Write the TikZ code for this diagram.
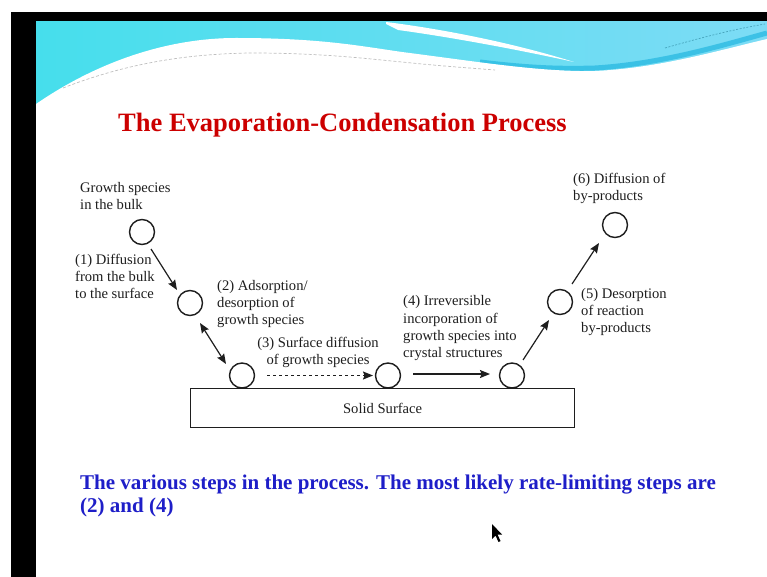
\documentclass[tikz,border=0pt]{standalone}
\usepackage{fontspec}
\setmainfont{Liberation Serif}
\usetikzlibrary{arrows.meta,calc}
\definecolor{titlered}{RGB}{204,0,0}
\definecolor{textblue}{RGB}{30,30,200}
\definecolor{cyanL}{RGB}{70,222,236}
\definecolor{cyanR}{RGB}{125,220,245}
\definecolor{bandblue}{RGB}{40,185,225}
\definecolor{ink}{RGB}{30,30,30}
\begin{document}
\begin{tikzpicture}[x=1pt,y=-1pt,
  ball/.style={circle,draw=ink,line width=1.4pt,minimum size=25pt,inner sep=0pt},
  lbl/.style={anchor=north west,inner sep=0pt,align=left,text=ink,font=\fontsize{14.6}{17.3}\selectfont},
  arr/.style={-{Stealth[length=10pt,width=8pt,inset=1.5pt]},line width=1.2pt,draw=ink},
  darr/.style={{Stealth[length=10pt,width=8pt,inset=1.5pt]}-{Stealth[length=10pt,width=8pt,inset=1.5pt]},line width=1.2pt,draw=ink},
]
\useasboundingbox (0,0) rectangle (767,577);
\fill[white] (0,0) rectangle (767,577);
\fill[black] (11,12) rectangle (767,577);
\fill[white] (36,22) rectangle (767,577);
% banner
\shade[left color=cyanL, right color=cyanR] (36,22) rectangle (767,112);
\draw[bandblue, line width=5pt, opacity=0.75] (480,62) .. controls (530,68) and (560,69) .. (595,68) .. controls (660,64) and (720,46) .. (767,33);
\fill[white] (36,104) .. controls (100,60) and (170,38) .. (236,38) .. controls (320,38) and (360,46) .. (402,52) .. controls (480,62) and (540,72) .. (595,71) .. controls (660,68) and (720,50) .. (767,39) -- (767,114) -- (36,114) -- cycle;
\fill[white] (386,22) .. controls (450,30) and (520,45) .. (574,62) .. controls (520,50) and (450,37) .. (398,30) -- (386,24) -- cycle;
\draw[gray, dash pattern=on 3pt off 2pt, line width=0.7pt, opacity=0.5] (63,88) .. controls (130,62) and (190,54) .. (250,53) .. controls (320,53) and (360,58) .. (402,62) .. controls (440,66) and (470,68) .. (495,70);
\draw[bandblue!60!black, dash pattern=on 2pt off 1.5pt, line width=0.7pt, opacity=0.5] (665,48) .. controls (700,38) and (730,30) .. (765,24);
% title
\node[anchor=base west, inner sep=0pt, text=titlered, font=\fontsize{26.5}{30}\selectfont\bfseries] (title) at (118,132) {The Evaporation-Condensation Process};
% surface and balls
\node[draw=ink, line width=1.3pt, minimum width=384pt, minimum height=39pt, anchor=north west, inner sep=0pt, font=\fontsize{14.6}{17.3}\selectfont, text=ink] (surf) at (190,388) {Solid Surface};
\node[ball] (c1) at (142,232) {};
\node[ball] (c2) at (190,303) {};
\node[ball] (c3) at (242,375.5) {};
\node[ball] (c4) at (388,375.5) {};
\node[ball] (c5) at (512,375.5) {};
\node[ball] (c6) at (560,302) {};
\node[ball] (c7) at (615,225) {};
% labels
\node[lbl] (t0) at (80,180) {\strut Growth species\\in the bulk};
\node[lbl] (t1) at (75,252) {\strut (1) Diffusion\\from the bulk\\to the surface};
\node[lbl] (t2) at (217,278) {\strut (2) Adsorption/\\desorption of\\growth species};
\node[lbl, align=center, anchor=north] (t3) at (318,335) {\strut (3) Surface diffusion\\of growth species};
\node[lbl] (t4) at (403,293.5) {\strut (4) Irreversible\\incorporation of\\growth species into\\crystal structures};
\node[lbl] (t5) at (581,286) {\strut (5) Desorption\\of reaction\\by-products};
\node[lbl] (t6) at (573,171) {\strut (6) Diffusion of\\by-products};
% arrows
\draw[arr] ([shift={(9,17)}]c1.center) -- ([shift={(-13,-13)}]c2.center);
\draw[darr] ([shift={(10,20)}]c2.center) -- ([shift={(-16,-11.5)}]c3.center);
\draw[arr, dashed] ([shift={(25,0)}]c3.center) -- ([shift={(-15,0)}]c4.center);
\draw[arr] ([shift={(25,-1.5)}]c4.center) -- ([shift={(-22,-1.5)}]c5.center);
\draw[arr] ([shift={(11,-15.5)}]c5.center) -- ([shift={(-11,18)}]c6.center);
\draw[arr] ([shift={(12,-18)}]c6.center) -- ([shift={(-16,18)}]c7.center);
% bottom text
\node[anchor=base west, inner sep=0pt, text=textblue, font=\fontsize{21}{24}\selectfont\bfseries] (b1) at (80,489) {The various steps in the process. The most likely rate-limiting steps are};
\node[anchor=base west, inner sep=0pt, text=textblue, font=\fontsize{21}{24}\selectfont\bfseries] (b2) at (80,512) {(2) and (4)};
% cursor
\fill[black] (492,524) -- (492,539) -- (495.5,535.5) -- (498.5,542) -- (500.5,541) -- (497.5,534.5) -- (502,534.5) -- cycle;
\end{tikzpicture}
\end{document}
